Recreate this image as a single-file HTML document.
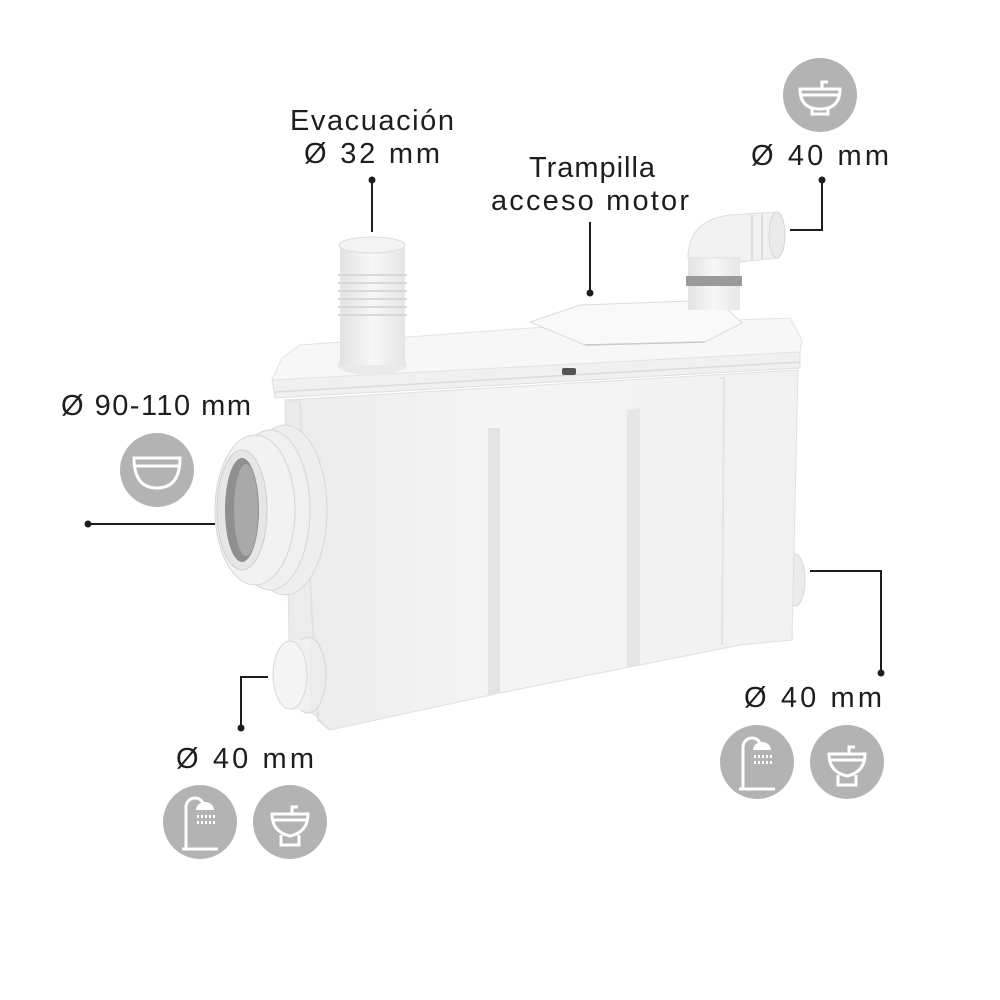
<!DOCTYPE html>
<html><head><meta charset="utf-8"><style>
html,body{margin:0;padding:0;background:#fff}
svg{display:block}
text{font-family:"Liberation Sans",sans-serif;font-size:29px;fill:#1e1e1e}
</style></head><body>
<svg width="1000" height="1000" viewBox="0 0 1000 1000" xmlns="http://www.w3.org/2000/svg">
<defs>
<linearGradient id="body" x1="0" x2="1" y1="0" y2="0">
<stop offset="0" stop-color="#ebebeb"/><stop offset="0.4" stop-color="#f4f4f4"/><stop offset="1" stop-color="#f1f1f1"/>
</linearGradient>
<linearGradient id="pipe" x1="0" x2="1" y1="0" y2="0">
<stop offset="0" stop-color="#e2e2e2"/><stop offset="0.5" stop-color="#f7f7f7"/><stop offset="1" stop-color="#e6e6e6"/>
</linearGradient>
<g id="sink">
<path d="M-20,-8 H20 Q20,12 0,12 Q-20,12 -20,-8 Z M-20,-2 H20" fill="none" stroke="#fff" stroke-width="3"/>
<path d="M-8,12 v5 h16 v-5" fill="none" stroke="#fff" stroke-width="3"/>
<path d="M2,-8 v-7 h6" fill="none" stroke="#fff" stroke-width="3"/>
</g>
<g id="toilet">
<path d="M-18,-8 H18 Q18,10 0,14 Q-18,10 -18,-8 Z M-18,-2 H18" fill="none" stroke="#fff" stroke-width="3"/>
<path d="M-9,13 v10 h18 v-10" fill="none" stroke="#fff" stroke-width="3"/>
<path d="M2,-8 v-7 h6" fill="none" stroke="#fff" stroke-width="3"/>
</g>
<g id="shower">
<path d="M-14,27 v-42 a9,9 0 0 1 18,0 v2" fill="none" stroke="#fff" stroke-width="3"/>
<path d="M-4,-12 a9,8 0 0 1 18,0 z" fill="#fff"/>
<path d="M-18,27 h36" stroke="#fff" stroke-width="3"/>
<g fill="#fff"><rect x="-3" y="-7" width="2" height="3"/><rect x="1" y="-7" width="2" height="3"/><rect x="5" y="-7" width="2" height="3"/><rect x="9" y="-7" width="2" height="3"/><rect x="13" y="-7" width="2" height="3"/><rect x="-3" y="-1" width="2" height="3"/><rect x="1" y="-1" width="2" height="3"/><rect x="5" y="-1" width="2" height="3"/><rect x="9" y="-1" width="2" height="3"/><rect x="13" y="-1" width="2" height="3"/></g>
</g>
</defs>

<ellipse cx="795" cy="580" rx="10" ry="26" fill="#ececec" stroke="#d8d8d8"/>
<path d="M285,400 L798,370 L792,640 L740,645 L500,693 L330,730 L315,715 L290,700 Z" fill="url(#body)" stroke="#e0e0e0"/>
<path d="M285,400 L300,402 L318,720 L330,730" fill="none" stroke="#e2e2e2" stroke-width="2"/>
<path d="M488,428 L500,428 L500,693 L488,695 Z" fill="#e3e3e3"/>
<path d="M627,410 L640,408 L640,665 L627,667 Z" fill="#e6e6e6"/>
<path d="M720,378 L724,378 L722,645" stroke="#e4e4e4" stroke-width="2" fill="none"/>
<path d="M272,378 L800,350 L800,368 L275,398 Z" fill="#f0f0f0" stroke="#dedede"/>
<path d="M275,392 L800,362" stroke="#dcdcdc" stroke-width="1.5"/>
<path d="M282,358 L300,345 L530,328 L790,318 L802,340 L800,352 L272,380 Z" fill="#f7f7f7" stroke="#e3e3e3"/>
<path d="M530,322 L580,305 L718,300 L742,323 L705,342 L585,345 Z" fill="#f9f9f9" stroke="#dcdcdc"/>
<path d="M585,345 L705,342" stroke="#c8c8c8" stroke-width="1.5"/>
<rect x="562" y="368" width="14" height="7" rx="2" fill="#555"/>
<ellipse cx="372" cy="365" rx="35" ry="10" fill="#eaeaea"/>
<rect x="340" y="245" width="65" height="120" fill="url(#pipe)"/>
<g stroke="#d8d8d8" stroke-width="2"><path d="M338,275 h69 M338,283 h69 M338,291 h69 M338,299 h69 M338,307 h69 M338,315 h69"/></g>
<ellipse cx="372" cy="245" rx="33" ry="8" fill="#f3f3f3" stroke="#dedede"/>
<rect x="688" y="255" width="52" height="55" fill="url(#pipe)"/>
<rect x="686" y="276" width="56" height="10" fill="#9a9a9a"/>
<path d="M688,258 Q688,220 730,215 L775,212 L778,258 L740,262 L740,258 Z" fill="#f1f1f1" stroke="#dedede"/>
<ellipse cx="777" cy="235" rx="8" ry="23" fill="#eaeaea" stroke="#d6d6d6"/>
<g stroke="#dcdcdc" stroke-width="2"><path d="M752,215 v45 M762,214 v45"/></g>
<ellipse cx="285" cy="510" rx="42" ry="85" fill="#eeeeee" stroke="#d8d8d8"/>
<ellipse cx="270" cy="510" rx="40" ry="80" fill="#f0f0f0" stroke="#d5d5d5"/>
<ellipse cx="255" cy="510" rx="40" ry="75" fill="#f2f2f2" stroke="#d5d5d5"/>
<ellipse cx="242" cy="510" rx="25" ry="60" fill="#e6e6e6" stroke="#cfcfcf"/>
<ellipse cx="242" cy="510" rx="17" ry="52" fill="#8f8f8f"/>
<ellipse cx="246" cy="510" rx="12" ry="46" fill="#a9a9a9"/>
<ellipse cx="308" cy="675" rx="18" ry="38" fill="#ececec" stroke="#d6d6d6"/>
<rect x="290" y="640" width="20" height="70" fill="#f0f0f0"/>
<ellipse cx="290" cy="675" rx="17" ry="34" fill="#f4f4f4" stroke="#d8d8d8"/>

<g stroke="#1e1e1e" stroke-width="2" fill="none">
<path d="M372,180 V232"/>
<path d="M590,293 V222"/>
<path d="M822,180 V230 H790"/>
<path d="M88,524 H215"/>
<path d="M241,728 V677 H268"/>
<path d="M810,571 H881 V673"/>
</g>
<g fill="#1e1e1e">
<circle cx="372" cy="180" r="3.5"/><circle cx="590" cy="293" r="3.5"/><circle cx="822" cy="180" r="3.5"/>
<circle cx="88" cy="524" r="3.5"/><circle cx="241" cy="728" r="3.5"/><circle cx="881" cy="673" r="3.5"/>
</g>

<text x="372" y="130" text-anchor="middle" textLength="164">Evacuación</text>
<text x="372" y="163" text-anchor="middle" textLength="136">Ø 32 mm</text>
<text x="592" y="177" text-anchor="middle" textLength="126">Trampilla</text>
<text x="590" y="210" text-anchor="middle" textLength="198">acceso motor</text>
<text x="820" y="165" text-anchor="middle" textLength="138">Ø 40 mm</text>
<text x="156" y="415" text-anchor="middle" textLength="190">Ø 90-110 mm</text>
<text x="245" y="768" text-anchor="middle" textLength="138">Ø 40 mm</text>
<text x="813" y="707" text-anchor="middle" textLength="138">Ø 40 mm</text>

<g fill="#b3b3b3">
<circle cx="820" cy="95" r="37"/><circle cx="157" cy="470" r="37"/>
<circle cx="200" cy="822" r="37"/><circle cx="290" cy="822" r="37"/>
<circle cx="757" cy="762" r="37"/><circle cx="847" cy="762" r="37"/>
</g>
<use href="#sink" x="820" y="97"/>
<path d="M134,458 H180 Q180,488 157,488 Q134,488 134,458 Z M134,466 H180" fill="none" stroke="#fff" stroke-width="3"/>
<use href="#shower" x="200" y="822"/>
<use href="#toilet" x="290" y="822"/>
<use href="#shower" x="757" y="762"/>
<use href="#toilet" x="847" y="762"/>
</svg>
</body></html>
